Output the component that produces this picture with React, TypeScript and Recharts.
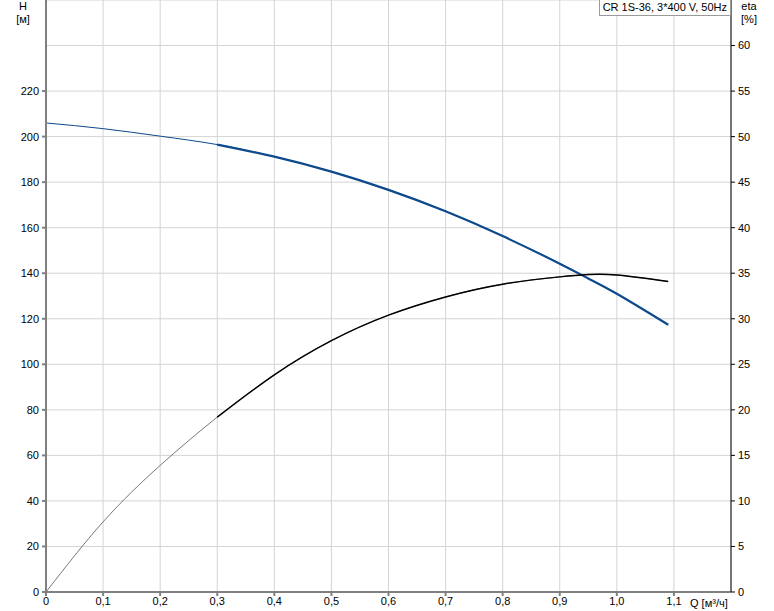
import React from "react";
import { CartesianGrid, Line, LineChart, XAxis, YAxis } from "recharts";

// flow Q [m3/h]
const qTicks = [0, 0.1, 0.2, 0.3, 0.4, 0.5, 0.6, 0.7, 0.8, 0.9, 1.0, 1.1];
const hTicks = [0, 20, 40, 60, 80, 100, 120, 140, 160, 180, 200, 220];
const etaTicks = [0, 5, 10, 15, 20, 25, 30, 35, 40, 45, 50, 55, 60];

// curve points
const qValues = [0, 0.1, 0.2, 0.3, 0.4, 0.5, 0.6, 0.7, 0.8, 0.9, 0.95, 1.0, 1.09];
const headValues = [206, 203.5, 200.2, 196.5, 191.2, 184.6, 176.6, 167.2, 156.3, 144.2, 137.7, 131, 117.4];
const etaValues = [0, 7.7, 13.9, 19.2, 23.85, 27.6, 30.4, 32.4, 33.8, 34.6, 34.85, 34.8, 34.1];

// working range starts here (thick line)
const workStart = 0.3;

const points = qValues.map((q, i) => ({ q, h: headValues[i], eta: etaValues[i] }));
const workPoints = points.filter((p) => p.q >= workStart);

const font = "Arial, 'Liberation Sans', sans-serif";
const tick = { fontSize: 11, fill: "#000", fontFamily: font };
const fmt = (v: number) => (v === 0 ? "0" : v.toFixed(1).replace(".", ","));
const txt: React.CSSProperties = {
  position: "absolute",
  fontFamily: font,
  fontSize: 11,
  color: "#000",
  lineHeight: "13px",
  textAlign: "center",
  whiteSpace: "nowrap",
};

export default function App() {
  return (
    <div style={{ position: "absolute", left: 0, top: 0, width: 774, height: 611, background: "#fff" }}>
      <LineChart width={774} height={611} margin={{ top: 0, right: 0, bottom: 0, left: 0 }}>
        <CartesianGrid yAxisId="eta" stroke="#d4d4d4" strokeWidth={1} />
        <XAxis
          type="number"
          dataKey="q"
          domain={[0, 1.2]}
          ticks={qTicks}
          tickFormatter={fmt}
          height={19}
          tick={tick}
          tickSize={4}
          tickMargin={1}
          stroke="#808080"
          strokeWidth={2}
          allowDuplicatedCategory={false}
        />
        <YAxis
          yAxisId="h"
          type="number"
          domain={[0, 260]}
          ticks={hTicks}
          width={46}
          tick={tick}
          tickSize={4}
          tickMargin={3}
          stroke="#808080"
          strokeWidth={2}
        />
        <YAxis
          yAxisId="eta"
          orientation="right"
          type="number"
          domain={[0, 65]}
          ticks={etaTicks}
          width={43}
          tick={tick}
          tickSize={4}
          tickMargin={3}
          stroke="#000"
        />
        <Line yAxisId="h" data={points} dataKey="h" type="natural" stroke="#0d4a8c" strokeWidth={1} dot={false} isAnimationActive={false} />
        <Line yAxisId="h" data={workPoints} dataKey="h" type="natural" stroke="#0d4a8c" strokeWidth={2.2} dot={false} isAnimationActive={false} />
        <Line yAxisId="eta" data={points} dataKey="eta" type="natural" stroke="#555" strokeWidth={0.8} dot={false} isAnimationActive={false} />
        <Line yAxisId="eta" data={workPoints} dataKey="eta" type="natural" stroke="#000" strokeWidth={1.5} dot={false} isAnimationActive={false} />
      </LineChart>
      <div style={{ ...txt, left: 14, top: 0, width: 18 }}>H</div>
      <div style={{ ...txt, left: 11, top: 13, width: 24 }}>[м]</div>
      <div style={{ ...txt, left: 737, top: 0, width: 24 }}>eta</div>
      <div style={{ ...txt, left: 737, top: 13, width: 24 }}>[%]</div>
      <div style={{ ...txt, left: 690, top: 597, textAlign: "left" }}>Q [м³/ч]</div>
      <div
        style={{
          ...txt,
          right: 43,
          top: 0,
          height: 15,
          padding: "0 3px",
          lineHeight: "15px",
          border: "1px solid #9a9a9a",
          borderTop: "none",
          background: "#fff",
        }}
      >
        CR 1S-36, 3*400 V, 50Hz
      </div>
    </div>
  );
}
